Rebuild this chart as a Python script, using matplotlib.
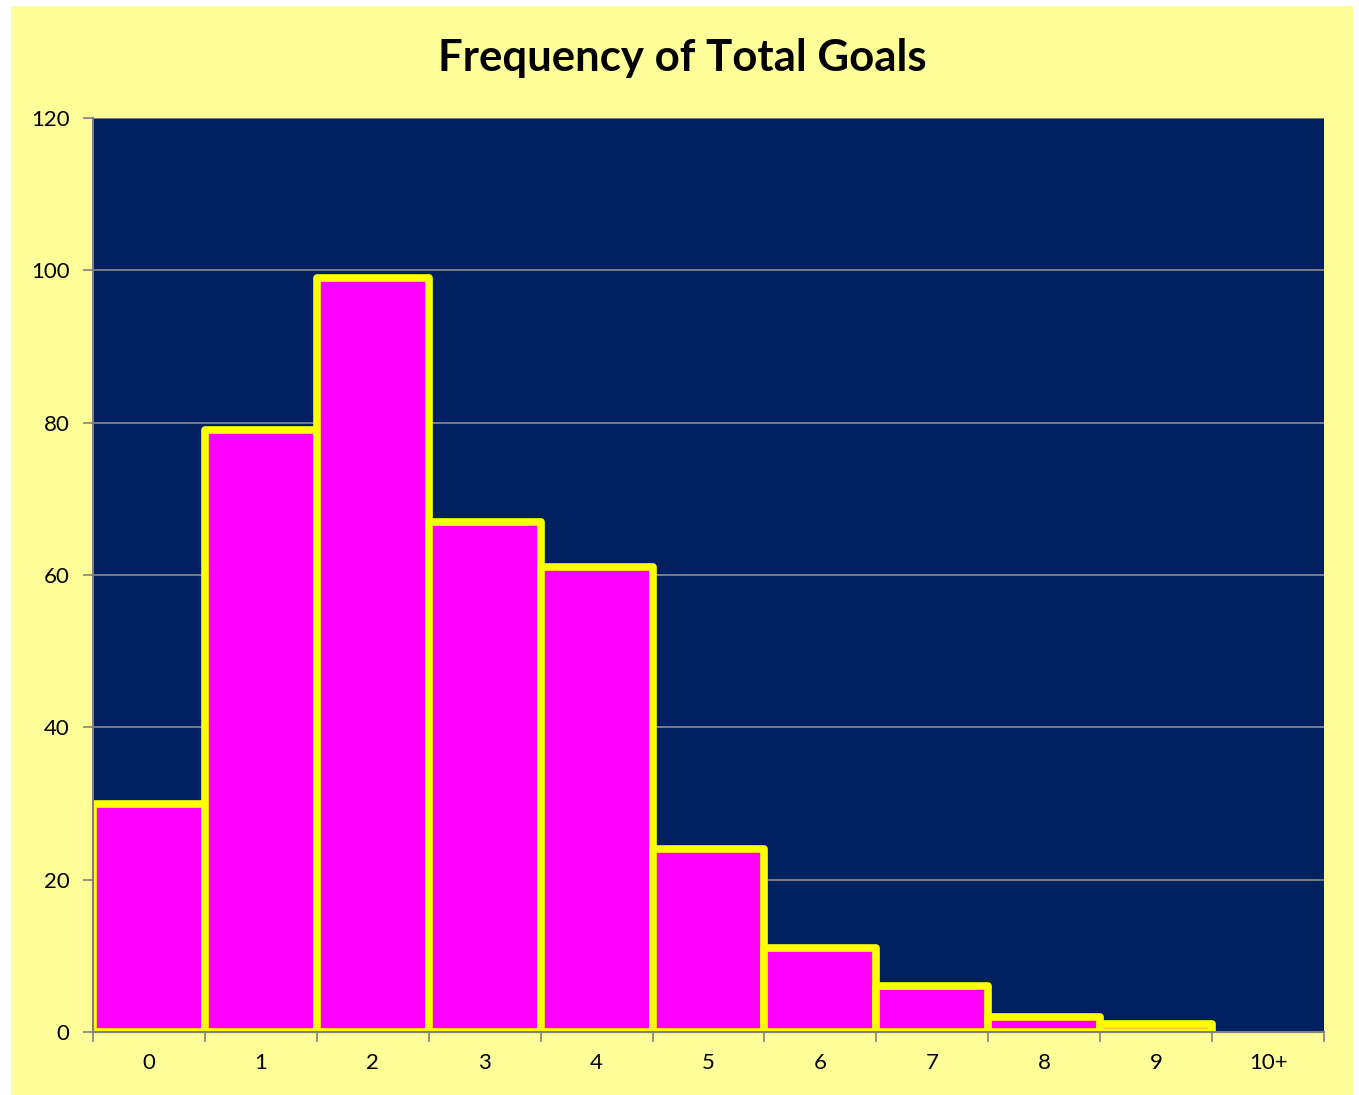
import numpy as np
import matplotlib
matplotlib.use("Agg")
import matplotlib.pyplot as plt
from matplotlib.patches import Rectangle

# goals per match and how many matches ended with that total
goals = ["0", "1", "2", "3", "4", "5", "6", "7", "8", "9", "10+"]
counts = [30, 79, 99, 67, 61, 24, 11, 6, 2, 1, 0]
yticks = [0, 20, 40, 60, 80, 100, 120]

plt.rcParams['font.family'] = ['Lato', 'DejaVu Sans']

fig = plt.figure(figsize=(13.59, 10.95), dpi=100)
fig.patch.set_facecolor("white")
# pale yellow chart area
fig.patches.append(Rectangle((11 / 1359, 0), (1353 - 11) / 1359, 1 - 6 / 1095,
                             transform=fig.transFigure, facecolor="#FFFF99",
                             edgecolor="none", zorder=-10))

ax = fig.add_axes([93 / 1359, 1 - 1032 / 1095, (1324 - 93) / 1359, (1032 - 118) / 1095])
ax.set_facecolor("#002060")

x = np.arange(len(goals))
vals = np.array(counts)
mask = vals > 0
ax.bar(x[mask], vals[mask], width=1.0, color="#FF00FF", edgecolor="#FFFF00",
       linewidth=5.5, zorder=3, joinstyle="round")

ax.set_xlim(-0.5, len(goals) - 0.5)
ax.set_ylim(0, 120)
ax.set_yticks(yticks)
ax.set_yticklabels([str(v) for v in yticks], fontsize=16)
ax.set_xticks(x)
ax.set_xticklabels(goals, fontsize=16)
ax.set_xticks(np.arange(-0.5, len(goals)), minor=True)
ax.tick_params(axis="x", which="major", length=0, pad=15)
ax.tick_params(axis="x", which="minor", length=7, color="#808080", width=1.2, direction="out")
ax.tick_params(axis="y", length=7, color="#808080", width=1.2, pad=10)

ax.grid(axis="y", color="#8c8c8c", linewidth=1.2, zorder=1)
ax.set_axisbelow(True)
for s in ["top", "right"]:
    ax.spines[s].set_visible(False)
for s in ["left", "bottom"]:
    ax.spines[s].set_color("#808080")
    ax.spines[s].set_linewidth(1.5)
    ax.spines[s].set_zorder(4)

fig.text(682 / 1359, 1 - 58 / 1095, "Frequency of Total Goals", ha="center", va="center",
         fontsize=31.5, fontweight="bold")

fig.savefig("out.png", dpi=100)
